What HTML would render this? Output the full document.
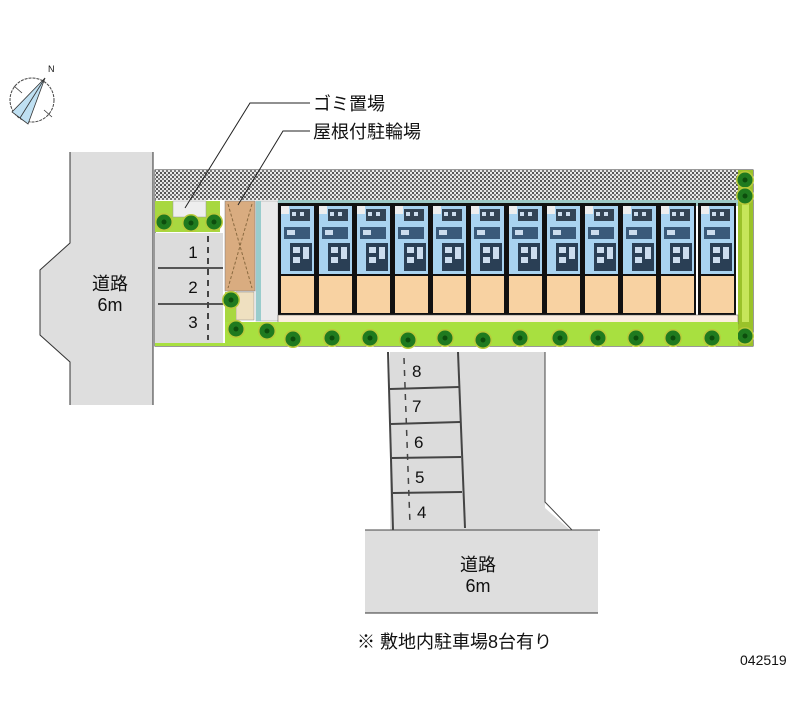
<!DOCTYPE html>
<html><head><meta charset="utf-8"><style>
body{margin:0;background:#fff}
svg{display:block}
text{font-family:"Liberation Sans","Noto Sans CJK JP",sans-serif;fill:#111}
</style></head><body>
<svg width="800" height="727" viewBox="0 0 800 727" xmlns="http://www.w3.org/2000/svg">
<defs>
<pattern id="hatch" width="4" height="4" patternUnits="userSpaceOnUse">
<rect width="4" height="4" fill="#e8e8e8"/><rect width="2" height="2" fill="#555"/><rect x="2" y="2" width="2" height="2" fill="#777"/>
</pattern>
<g id="unit">
<rect x="0" y="0" width="38" height="112" fill="#111"/>
<rect x="3" y="3" width="33" height="68" fill="#a9d3f0"/>
<rect x="3" y="73" width="33" height="37" fill="#f8d2a2"/>
<rect x="3" y="3" width="8" height="8" fill="#eee"/>
<rect x="12" y="6" width="20" height="12" fill="#345"/>
<rect x="14" y="9" width="4" height="4" fill="#cde"/><rect x="22" y="9" width="4" height="4" fill="#cde"/>
<rect x="6" y="24" width="26" height="12" fill="#3a5a7a"/>
<rect x="9" y="27" width="8" height="5" fill="#cde"/>
<rect x="12" y="40" width="22" height="28" fill="#2a3f55"/>
<rect x="15" y="44" width="7" height="6" fill="#cde"/><rect x="15" y="54" width="7" height="6" fill="#cde"/>
<rect x="25" y="44" width="6" height="12" fill="#cde"/>
</g>
<g id="tree"><circle r="9" fill="#b8c93a"/><circle r="7.5" fill="#1f7a1f"/><circle r="2.5" fill="#0d4d0d"/></g>
</defs>

<!-- compass -->
<circle cx="32" cy="100" r="22" fill="none" stroke="#444" stroke-width="1" stroke-dasharray="3,1"/>
<polygon points="45,78 12,112 28,124" fill="#bfe0f2" stroke="#333" stroke-width="0.8"/>
<line x1="45" y1="78" x2="20" y2="118" stroke="#333" stroke-width="0.8"/>
<line x1="14" y1="86" x2="22" y2="93" stroke="#333" stroke-width="0.8"/>
<line x1="44" y1="110" x2="52" y2="117" stroke="#333" stroke-width="0.8"/>
<text x="48" y="72" font-size="9">N</text>

<!-- left road -->
<polygon points="70,152 153,152 153,405 70,405 70,362 40,335 40,270 70,243" fill="#dedede"/>
<polyline points="70,152 70,243 40,270 40,335 70,362 70,405" fill="none" stroke="#333" stroke-width="1"/>
<line x1="153" y1="152" x2="153" y2="405" stroke="#333"/>
<text x="110" y="290" font-size="18" text-anchor="middle">道路</text>
<text x="110" y="311" font-size="18" text-anchor="middle">6m</text>

<!-- bottom road -->
<rect x="365" y="530" width="233" height="83" fill="#dedede"/>
<line x1="365" y1="613" x2="598" y2="613" stroke="#333"/>
<text x="478" y="571" font-size="18" text-anchor="middle">道路</text>
<text x="478" y="592" font-size="18" text-anchor="middle">6m</text>

<!-- lot -->
<rect x="155" y="170" width="598" height="176" fill="#fff" stroke="#333" stroke-width="1"/>
<rect x="155" y="170" width="583" height="30" fill="url(#hatch)"/>
<rect x="738" y="170" width="15" height="176" fill="#9ac22a"/>
<rect x="742" y="182" width="7" height="140" fill="#c6e65a"/>
<use href="#tree" x="745" y="180"/><use href="#tree" x="745" y="196"/><use href="#tree" x="745" y="336"/>
<!-- garbage area -->
<rect x="155" y="201" width="65" height="31" fill="#a8d840"/>
<rect x="173" y="201" width="33" height="16" fill="#eee" stroke="#999" stroke-width="0.5"/>
<use href="#tree" x="164" y="222"/><use href="#tree" x="191" y="223"/><use href="#tree" x="214" y="222"/>
<!-- parking 1-3 -->
<rect x="155" y="233" width="68" height="110" fill="#dcdcdc"/>
<line x1="158" y1="268" x2="223" y2="268" stroke="#555" stroke-width="2"/>
<line x1="158" y1="304" x2="223" y2="304" stroke="#555" stroke-width="2"/>
<line x1="208" y1="236" x2="208" y2="340" stroke="#444" stroke-width="2" stroke-dasharray="6,5"/>
<text x="193" y="258" font-size="17" text-anchor="middle">1</text>
<text x="193" y="293" font-size="17" text-anchor="middle">2</text>
<text x="193" y="328" font-size="17" text-anchor="middle">3</text>
<!-- bike shelter -->
<rect x="225" y="201" width="30" height="90" fill="#d9ac80" stroke="#777" stroke-width="0.5"/>
<path d="M228,204 L252,288 M252,204 L228,288" stroke="#8a6a40" stroke-dasharray="3,2" fill="none"/>
<rect x="236" y="292" width="18" height="28" fill="#efe0c0" stroke="#888" stroke-width="0.5"/>
<rect x="225" y="292" width="11" height="30" fill="#a8d840"/>
<use href="#tree" x="231" y="300"/>
<rect x="256" y="201" width="22" height="120" fill="#eaeaea" stroke="#999" stroke-width="0.5"/>
<rect x="256" y="201" width="5" height="120" fill="#9cc"/>
<rect x="278" y="200" width="460" height="6" fill="#9cc9c6"/>
<!-- units -->
<use href="#unit" x="278" y="203"/><use href="#unit" x="316" y="203"/><use href="#unit" x="354" y="203"/>
<use href="#unit" x="392" y="203"/><use href="#unit" x="430" y="203"/><use href="#unit" x="468" y="203"/>
<use href="#unit" x="506" y="203"/><use href="#unit" x="544" y="203"/><use href="#unit" x="582" y="203"/>
<use href="#unit" x="620" y="203"/><use href="#unit" x="658" y="203"/><use href="#unit" x="698" y="203"/>
<rect x="278" y="315" width="460" height="9" fill="#fbeee0" stroke="#555" stroke-width="0.5"/>
<!-- green bottom strip -->
<rect x="225" y="322" width="513" height="24" fill="#a8e040"/>
<rect x="155" y="343" width="70" height="3" fill="#a8e040"/>
<g>
<use href="#tree" x="236" y="329"/><use href="#tree" x="267" y="331"/><use href="#tree" x="293" y="339"/>
<use href="#tree" x="332" y="338"/><use href="#tree" x="370" y="338"/><use href="#tree" x="408" y="340"/>
<use href="#tree" x="445" y="338"/><use href="#tree" x="483" y="340"/><use href="#tree" x="520" y="338"/>
<use href="#tree" x="560" y="338"/><use href="#tree" x="598" y="338"/><use href="#tree" x="636" y="338"/>
<use href="#tree" x="673" y="338"/><use href="#tree" x="712" y="338"/>
</g>
<!-- parking 4-8 -->
<polygon points="390,352 545,352 545,508 570,530 390,530" fill="#dcdcdc"/>
<polyline points="545,352 545,502 572,530" fill="none" stroke="#444" stroke-width="1"/>
<line x1="388" y1="352" x2="393" y2="530" stroke="#444" stroke-width="2"/>
<line x1="458" y1="352" x2="465" y2="528" stroke="#444" stroke-width="2"/>
<line x1="390" y1="389" x2="459" y2="387" stroke="#444" stroke-width="2"/>
<line x1="391" y1="424" x2="460" y2="422" stroke="#444" stroke-width="2"/>
<line x1="392" y1="458" x2="461" y2="457" stroke="#444" stroke-width="2"/>
<line x1="393" y1="493" x2="462" y2="492" stroke="#444" stroke-width="2"/>
<line x1="404" y1="358" x2="410" y2="525" stroke="#444" stroke-width="1.5" stroke-dasharray="6,6"/>
<text x="412" y="377" font-size="17">8</text>
<text x="412" y="412" font-size="17">7</text>
<text x="414" y="448" font-size="17">6</text>
<text x="415" y="483" font-size="17">5</text>
<text x="417" y="518" font-size="17">4</text>
<line x1="365" y1="530" x2="600" y2="530" stroke="#444"/>

<!-- labels -->
<polyline points="185,208 250,103 310,103" fill="none" stroke="#222" stroke-width="1"/>
<polyline points="238,205 283,131 310,131" fill="none" stroke="#222" stroke-width="1"/>
<text x="313" y="110" font-size="18">ゴミ置場</text>
<text x="313" y="138" font-size="18">屋根付駐輪場</text>
<text x="357" y="648" font-size="18">※ 敷地内駐車場8台有り</text>
<text x="740" y="665" font-size="14">042519</text>
</svg>
</body></html>
